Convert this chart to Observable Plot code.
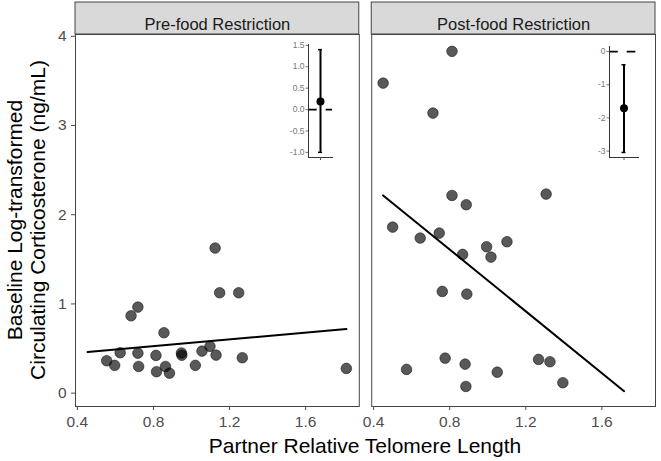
<!DOCTYPE html>
<html>
<head>
<meta charset="utf-8">
<script src="https://cdn.jsdelivr.net/npm/d3@7"></script>
<script src="https://cdn.jsdelivr.net/npm/@observablehq/plot@0.6"></script>
<style>
  html, body { margin: 0; padding: 0; background: #fff; }
  #chart { position: relative; width: 661px; height: 461px; }
  #chart .inset { position: absolute; }
</style>
</head>
<body>
<div id="chart"></div>
<script>
// Facet panels
const panels = ["Pre-food Restriction", "Post-food Restriction"];

// Pre-food restriction: partner telomere length vs. baseline corticosterone
const preTelomere = [1.124, 1.148, 1.248, 0.718, 0.682, 0.855, 0.554, 0.596, 0.625, 0.718, 0.722, 0.813,
                     0.816, 0.863, 0.884, 0.947, 0.949, 1.020, 1.055, 1.097, 1.129, 1.267, 1.814];
const preCort     = [1.626, 1.125, 1.125, 0.964, 0.867, 0.677, 0.363, 0.311, 0.453, 0.448, 0.299, 0.423,
                     0.240, 0.299, 0.224, 0.450, 0.425, 0.311, 0.471, 0.524, 0.426, 0.397, 0.277];

// Post-food restriction
const postTelomere = [0.812, 0.450, 0.712, 0.812, 1.307, 0.887, 0.500, 0.645, 0.745, 0.868, 0.994, 1.017,
                      1.101, 0.761, 0.890, 0.776, 0.573, 0.881, 0.885, 1.050, 1.267, 1.327, 1.395];
const postCort     = [3.831, 3.475, 3.139, 2.216, 2.231, 2.112, 1.861, 1.738, 1.794, 1.555, 1.641, 1.525,
                      1.697, 1.140, 1.110, 0.392, 0.266, 0.325, 0.075, 0.235, 0.378, 0.352, 0.117];

// Fitted regression lines (end points) per panel
const preFitX  = [0.454, 1.814];
const preFitY  = [0.460, 0.718];
const postFitX = [0.450, 1.717];
const postFitY = [2.216, 0.022];

// Slope estimates with confidence intervals (insets)
const preSlope  = {term: "slope", est: 0.19,  lo: -1.00, hi: 1.40};
const postSlope = {term: "slope", est: -1.71, lo: -3.04, hi: -0.40};
const preInsetTicks  = [-1.0, -0.5, 0.0, 0.5, 1.0, 1.5];
const postInsetTicks = [-3, -2, -1, 0];

// Main axes
const xTicks = [0.4, 0.8, 1.2, 1.6];
const yTicks = [0, 1, 2, 3, 4];
const xDomain = [0.39, 1.882];
const yDomain = [-0.15, 4.02];

const font = "'Liberation Sans', Arial, Helvetica, sans-serif";

const points = [
  ...preTelomere.map((x, i) => ({panel: panels[0], x, y: preCort[i]})),
  ...postTelomere.map((x, i) => ({panel: panels[1], x, y: postCort[i]}))
];
const fits = [
  ...preFitX.map((x, i) => ({panel: panels[0], x, y: preFitY[i]})),
  ...postFitX.map((x, i) => ({panel: panels[1], x, y: postFitY[i]}))
];

const main = Plot.plot({
  width: 661,
  height: 461,
  marginLeft: 75,
  marginRight: 6,
  marginTop: 34,
  marginBottom: 55,
  style: {fontFamily: font, background: "#fff", overflow: "visible"},
  fx: {domain: panels, paddingInner: 0.042, paddingOuter: 0, round: false, axis: null, label: null},
  x: {domain: xDomain, label: null},
  y: {domain: yDomain, label: null},
  marks: [
    // strip boxes above each panel
    Plot.rect(panels, {fx: d => d, y1: () => yDomain[1], y2: () => yDomain[1], insetTop: -32,
                       fill: "#d9d9d9", stroke: "#444", strokeWidth: 1}),
    Plot.text(panels, {fx: d => d, text: d => d, frameAnchor: "top", dy: -16,
                       fontSize: 16.5, fill: "#1a1a1a"}),
    Plot.frame({stroke: "#444", strokeWidth: 1}),
    Plot.axisX({ticks: xTicks, tickFormat: d => d.toFixed(1), tickSize: 4, tickPadding: 5,
                fontSize: 15.5, color: "#4d4d4d", label: null}),
    Plot.axisY({ticks: yTicks, tickFormat: d => String(d), tickSize: 4, tickPadding: 5,
                fontSize: 15.5, color: "#4d4d4d", label: null}),
    Plot.line(fits, {fx: "panel", x: "x", y: "y", stroke: "#000", strokeWidth: 2}),
    Plot.dot(points, {fx: "panel", x: "x", y: "y", r: 5.3, fill: "#000", fillOpacity: 0.65,
                      stroke: "#000", strokeOpacity: 0.5, strokeWidth: 1})
  ]
});

// axis titles
const svg = d3.select(main);
svg.append("text")
  .attr("x", 365).attr("y", 453)
  .attr("text-anchor", "middle")
  .attr("font-size", 21).attr("fill", "#000")
  .text("Partner Relative Telomere Length");
const yTitle = svg.append("text")
  .attr("transform", "translate(0,220) rotate(-90)")
  .attr("text-anchor", "middle")
  .attr("font-size", 21).attr("fill", "#000");
yTitle.append("tspan").attr("x", 0).attr("y", 22).text("Baseline Log-transformed");
yTitle.append("tspan").attr("x", 0).attr("y", 45).text("Circulating Corticosterone (ng/mL)");

const chart = document.getElementById("chart");
chart.appendChild(main);

// coefficient inset: point estimate, confidence interval and a dashed zero line
function inset(ci, ticks, fmt, {left, top, marginLeft, plotWidth, plotHeight}) {
  const lo = Math.min(ci.lo, 0), hi = Math.max(ci.hi, 0), pad = (hi - lo) * 0.05;
  const capWidth = 4;
  const cap = (plotWidth - capWidth) / 2;
  const p = Plot.plot({
    width: marginLeft + plotWidth + 2,
    height: 6 + plotHeight + 8,
    marginLeft, marginRight: 2, marginTop: 6, marginBottom: 8,
    style: {fontFamily: font, background: "transparent", overflow: "visible"},
    x: {domain: [ci.term], padding: 0, label: null},
    y: {domain: [lo - pad, hi + pad], label: null},
    marks: [
      Plot.ruleY([0], {stroke: "#000", strokeWidth: 1.8, strokeDasharray: "8.7,9"}),
      Plot.frame({anchor: "left", stroke: "#333", strokeWidth: 1}),
      Plot.frame({anchor: "bottom", stroke: "#333", strokeWidth: 1}),
      Plot.axisY({ticks, tickFormat: fmt, tickSize: 2.5, tickPadding: 1.5, fontSize: 8.5,
                  color: "#777", label: null}),
      Plot.axisX({tickSize: 3, tickFormat: () => "", color: "#555", label: null}),
      Plot.ruleX([ci], {x: "term", y1: "lo", y2: "hi", stroke: "#000", strokeWidth: 2}),
      Plot.tickY([ci], {x: "term", y: "lo", stroke: "#000", strokeWidth: 1.5, insetLeft: cap, insetRight: cap}),
      Plot.tickY([ci], {x: "term", y: "hi", stroke: "#000", strokeWidth: 1.5, insetLeft: cap, insetRight: cap}),
      Plot.dot([ci], {x: "term", y: "est", r: 4, fill: "#000"})
    ]
  });
  const wrap = document.createElement("div");
  wrap.className = "inset";
  wrap.style.left = left + "px";
  wrap.style.top = top + "px";
  wrap.appendChild(p);
  chart.appendChild(wrap);
}

inset(preSlope, preInsetTicks, d => d.toFixed(1),
      {left: 280, top: 38, marginLeft: 28, plotWidth: 24, plotHeight: 113});
inset(postSlope, postInsetTicks, d => String(d),
      {left: 580, top: 40, marginLeft: 29, plotWidth: 29, plotHeight: 111});
</script>
</body>
</html>
